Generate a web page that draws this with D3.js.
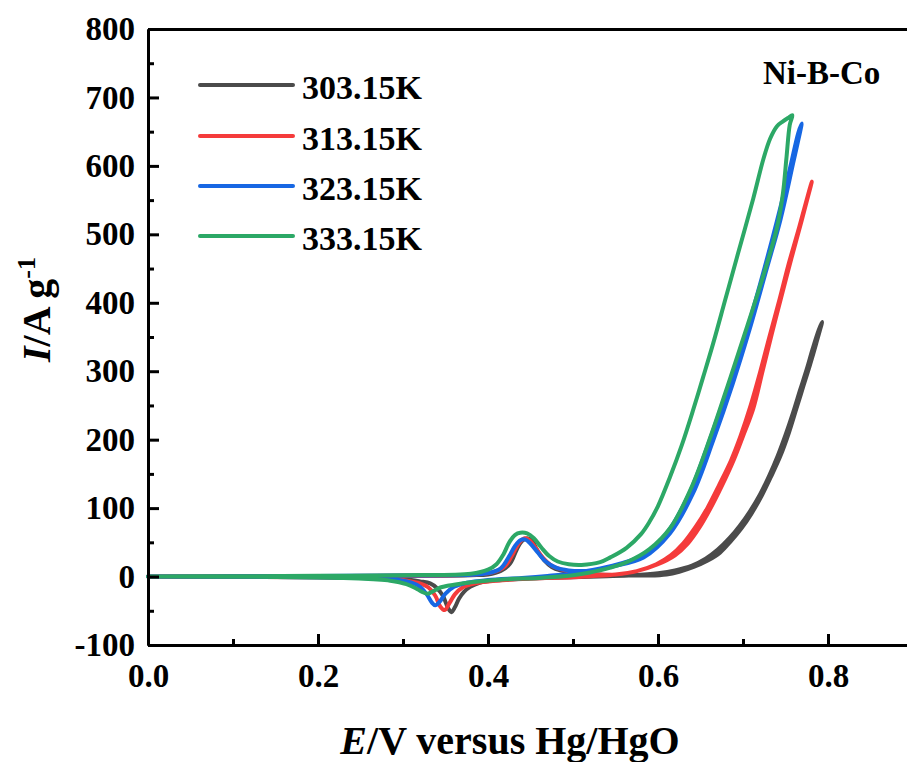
<!DOCTYPE html>
<html>
<head>
<meta charset="utf-8">
<script src="https://cdn.jsdelivr.net/npm/d3@7/dist/d3.min.js"></script>
<style>
  body { margin: 0; background: #fff; }
  svg text { font-family: "Liberation Serif", "Times New Roman", serif; font-weight: bold; fill: #000; }
</style>
</head>
<body>
<svg id="chart" width="907" height="762"></svg>
<script>
// DATA: cyclic voltammograms, [E (V vs Hg/HgO), I (A/g)], forward sweep then reverse
let seriesNames = ['303.15K', '313.15K', '323.15K', '333.15K'];

let k303 = [
  [0, 0], [0.1, 0.3], [0.2, 0.5], [0.3, 1], [0.38, 2], [0.40, 3], [0.415, 8], [0.426, 19], [0.434, 40],
  [0.44, 52], [0.446, 56], [0.452, 52], [0.458, 38], [0.466, 24], [0.475, 14], [0.485, 9], [0.5, 6],
  [0.53, 3], [0.56, 2], [0.59, 1.5], [0.61, 3], [0.625, 7], [0.642, 14], [0.658, 23], [0.673, 35],
  [0.686, 52], [0.698, 70], [0.71, 92], [0.722, 118], [0.733, 146], [0.744, 176], [0.754, 210],
  [0.763, 246], [0.771, 278], [0.779, 310], [0.786, 340], [0.793, 372],
  [0.789, 360], [0.782, 333], [0.775, 303], [0.767, 272], [0.759, 240], [0.75, 207], [0.741, 177],
  [0.731, 148], [0.72, 120], [0.708, 95], [0.696, 74], [0.684, 56], [0.67, 39], [0.656, 26], [0.64, 16],
  [0.62, 9], [0.6, 5], [0.57, 2], [0.54, 0.5], [0.5, -1], [0.45, -3], [0.41, -5.5], [0.39, -9],
  [0.379, -15], [0.372, -22], [0.366, -32], [0.361, -45], [0.357, -52], [0.353, -46], [0.347, -28],
  [0.34, -17], [0.332, -10], [0.32, -7], [0.31, -5], [0.29, -3], [0.26, -2], [0.2, -1], [0.1, -0.3], [0, 0]
];

let k313 = [
  [0, 0], [0.1, 0.3], [0.2, 0.6], [0.3, 1.2], [0.38, 2.5], [0.405, 6], [0.42, 15], [0.43, 35], [0.437, 50],
  [0.443, 56], [0.449, 53], [0.456, 42], [0.465, 27], [0.475, 16], [0.49, 9], [0.51, 5], [0.53, 3],
  [0.55, 3], [0.575, 8], [0.6, 18], [0.62, 31], [0.635, 48], [0.649, 72], [0.662, 100], [0.675, 132],
  [0.689, 170], [0.7, 205], [0.712, 245], [0.723, 300], [0.734, 355], [0.745, 408], [0.757, 465],
  [0.769, 520], [0.781, 577],
  [0.777, 560], [0.766, 510], [0.754, 458], [0.743, 405], [0.731, 350], [0.72, 298], [0.709, 250],
  [0.697, 205], [0.686, 170], [0.672, 134], [0.658, 100], [0.645, 74], [0.63, 49], [0.615, 31],
  [0.598, 18], [0.575, 8], [0.55, 3], [0.52, 0.5], [0.5, -1], [0.45, -3], [0.41, -6], [0.385, -10],
  [0.37, -16], [0.361, -26], [0.355, -38], [0.349, -49], [0.344, -44], [0.338, -28], [0.33, -16],
  [0.32, -10], [0.305, -6], [0.28, -3], [0.25, -2], [0.2, -1], [0.1, -0.3], [0, 0]
];

let k323 = [
  [0, 0], [0.1, 0.4], [0.2, 0.8], [0.3, 1.5], [0.38, 2.5], [0.40, 5], [0.415, 12], [0.425, 30],
  [0.432, 45], [0.438, 53], [0.444, 54], [0.45, 48], [0.458, 36], [0.468, 22], [0.48, 13], [0.495, 9],
  [0.51, 8], [0.53, 10], [0.544, 14], [0.583, 28], [0.614, 63], [0.641, 121], [0.665, 199],
  [0.688, 282], [0.708, 362], [0.728, 450], [0.744, 521], [0.759, 604], [0.769, 662],
  [0.765, 648], [0.755, 595], [0.74, 520], [0.724, 445], [0.705, 362], [0.684, 283], [0.661, 200],
  [0.637, 122], [0.61, 63], [0.58, 30], [0.54, 14], [0.5, 5], [0.47, 1], [0.44, -2], [0.4, -5],
  [0.375, -9], [0.36, -15], [0.35, -25], [0.343, -37], [0.338, -42], [0.334, -38], [0.328, -26],
  [0.32, -15], [0.31, -9], [0.295, -5], [0.27, -3], [0.23, -1.5], [0.15, -0.5], [0, 0]
];

let k333 = [
  [0, 0], [0.1, 0.5], [0.2, 1], [0.3, 2], [0.38, 4], [0.40, 10], [0.41, 18], [0.418, 32], [0.425, 50],
  [0.432, 61], [0.438, 64], [0.446, 63], [0.454, 56], [0.463, 42], [0.472, 30], [0.482, 22],
  [0.495, 18], [0.51, 17], [0.532, 21], [0.544, 28], [0.563, 42], [0.58, 62], [0.59, 80], [0.6, 103],
  [0.614, 145], [0.628, 192], [0.641, 242], [0.653, 291], [0.665, 341], [0.679, 404], [0.693, 467],
  [0.712, 552], [0.724, 610], [0.732, 640], [0.74, 658], [0.747, 665], [0.753, 670], [0.758, 674],
  [0.755, 660], [0.751, 610], [0.747, 560], [0.74, 510], [0.724, 440], [0.705, 366], [0.685, 290],
  [0.662, 205], [0.64, 132], [0.615, 72], [0.59, 40], [0.565, 22], [0.544, 13], [0.52, 6], [0.5, 2],
  [0.46, -2], [0.42, -4], [0.383, -8], [0.36, -12], [0.344, -16], [0.336, -21], [0.329, -25],
  [0.322, -22], [0.315, -17], [0.304, -11], [0.285, -6], [0.265, -4], [0.23, -2], [0.15, -0.5], [0, 0]
];

let seriesData = [k303, k313, k323, k333];

let xMajorTicks = [0, 0.2, 0.4, 0.6, 0.8];
let xMinorTicks = [0.1, 0.3, 0.5, 0.7, 0.9];
let yMajorTicks = [-100, 0, 100, 200, 300, 400, 500, 600, 700, 800];
let yMinorTicks = [-50, 50, 150, 250, 350, 450, 550, 650, 750];

// STYLE
let colors = ['#4b4b4b', '#f53b3b', '#1767e3', '#2ca866'];
let lineWidth = 4;

let svg = d3.select('#chart');

let x = d3.scaleLinear().domain([0, 0.9]).range([148, 913]);
let y = d3.scaleLinear().domain([-100, 800]).range([645, 29]);

// curves
let line = d3.line()
    .x(function (d) { return x(d[0]); })
    .y(function (d) { return y(d[1]); })
    .curve(d3.curveCatmullRom.alpha(0.5));

seriesData.forEach(function (data, i) {
    svg.append('path')
        .datum(data)
        .attr('fill', 'none')
        .attr('stroke', colors[i])
        .attr('stroke-width', lineWidth)
        .attr('stroke-linejoin', 'round')
        .attr('stroke-linecap', 'round')
        .attr('d', line);
});

// axes
function styleAxis(g) {
    g.select('.domain').attr('stroke', '#000').attr('stroke-width', 3);
    g.selectAll('.tick line').attr('stroke', '#000').attr('stroke-width', 3);
    g.selectAll('.tick text').style('font-size', '33px').attr('fill', '#000');
}

svg.append('g')
    .attr('transform', 'translate(0,645)')
    .call(d3.axisBottom(x).tickValues(xMajorTicks).tickFormat(d3.format('.1f'))
        .tickSizeInner(-11).tickSizeOuter(0).tickPadding(19))
    .call(styleAxis)
    .call(g => g.selectAll('.tick text').attr('dy', '0.71em'));

svg.append('g')
    .attr('transform', 'translate(0,645)')
    .call(d3.axisBottom(x).tickValues(xMinorTicks).tickFormat('').tickSizeInner(-6).tickSizeOuter(0))
    .call(styleAxis);

svg.append('g')
    .attr('transform', 'translate(148,0)')
    .call(d3.axisLeft(y).tickValues(yMajorTicks).tickFormat(d => String(d))
        .tickSizeInner(-11).tickSizeOuter(0).tickPadding(13))
    .call(styleAxis);

svg.append('g')
    .attr('transform', 'translate(148,0)')
    .call(d3.axisLeft(y).tickValues(yMinorTicks).tickFormat('').tickSizeInner(-6).tickSizeOuter(0))
    .call(styleAxis);

// top frame line
svg.append('g')
    .attr('transform', 'translate(0,29)')
    .call(d3.axisTop(x).tickValues([]).tickSizeOuter(0))
    .call(styleAxis);

// axis titles
let xTitle = svg.append('text')
    .attr('x', 510)
    .attr('y', 754)
    .attr('text-anchor', 'middle')
    .style('font-size', '40px');
xTitle.append('tspan').style('font-style', 'italic').text('E');
xTitle.append('tspan').text('/V versus Hg/HgO');

let yTitle = svg.append('text')
    .attr('transform', 'translate(50,362) rotate(-90)')
    .attr('text-anchor', 'start')
    .style('font-size', '40px');
yTitle.append('tspan').style('font-style', 'italic').text('I');
yTitle.append('tspan').text('/A g');
yTitle.append('tspan').attr('dy', -15).style('font-size', '26px').text('-1');

// legend
let legendY = [85, 136, 186, 236];
seriesNames.forEach(function (name, i) {
    svg.append('line')
        .attr('x1', 200).attr('x2', 293)
        .attr('y1', legendY[i]).attr('y2', legendY[i])
        .attr('stroke', colors[i])
        .attr('stroke-width', 4)
        .attr('stroke-linecap', 'round');
    svg.append('text')
        .attr('x', 302)
        .attr('y', legendY[i] + 14)
        .style('font-size', '34px')
        .text(name);
});

svg.append('text')
    .attr('x', 763)
    .attr('y', 84)
    .style('font-size', '33px')
    .text('Ni-B-Co');
</script>
</body>
</html>
